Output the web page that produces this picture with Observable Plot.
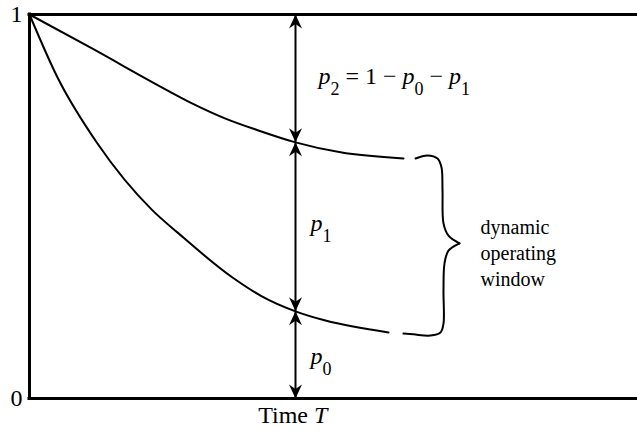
<!DOCTYPE html>
<html>
<head>
<meta charset="utf-8">
<script src="https://cdn.jsdelivr.net/npm/d3@7"></script>
<script src="https://cdn.jsdelivr.net/npm/@observablehq/plot@0.6"></script>
<style>
  html, body { margin: 0; padding: 0; background: #fff; }
  svg text { font-family: "Liberation Serif", "Times New Roman", serif; }
</style>
</head>
<body>
<div id="chart"></div>
<script>
// ---- data (x in time units, y as probability) ----
const upperX = [0, 1.036, 2.122, 2.681, 3.224, 3.766, 4.375, 5.115, 6.151];
const upperY = [1, 0.911, 0.815, 0.768, 0.729, 0.698, 0.667, 0.641, 0.625];   // p0 + p1
const lowerX = [0, 0.461, 1.118, 2.023, 2.451, 3.339, 3.799, 4.375, 4.868, 5.905];
const lowerY = [1, 0.836, 0.664, 0.490, 0.430, 0.315, 0.268, 0.227, 0.203, 0.172]; // p0
const arrowT = 4.375;            // time T where the probabilities are read
const yTicks = [0, 1];

// brace around the "dynamic operating window"
const braceTopX = [6.349, 6.546, 6.711, 6.776, 6.793, 6.809, 6.891, 7.072];
const braceTopY = [0.625, 0.633, 0.625, 0.602, 0.542, 0.456, 0.424, 0.404];
const braceBotX = [7.072, 6.891, 6.826, 6.809, 6.809, 6.760, 6.595, 6.316, 6.151];
const braceBotY = [0.404, 0.385, 0.352, 0.281, 0.195, 0.172, 0.164, 0.167, 0.169];

// labels (markup: *italic*, _subscript)
const mathLabels = [
  {x: 4.753, y: 0.840, text: "*p*_2 = 1 − *p*_0 − *p*_1"},
  {x: 4.62,  y: 0.455, text: "*p*_1"},
  {x: 4.62,  y: 0.109, text: "*p*_0"}
];
const windowLabel = [{x: 7.418, y: 0.477, text: "dynamic\noperating\nwindow"}];
const timeLabel = [{x: 4.33, text: "Time *T*"}];

// ---- derived ----
const pts = (xs, ys) => xs.map((x, i) => ({x, y: ys[i]}));
const upperAt = upperY[upperX.indexOf(arrowT)];
const lowerAt = lowerY[lowerX.indexOf(arrowT)];
const headsUp = [1, upperAt, lowerAt].map(y => ({x: arrowT, y}));
const headsDown = [upperAt, lowerAt, 0].map(y => ({x: arrowT, y}));

const arrowUp = {draw(ctx) { ctx.moveTo(0, 0); ctx.lineTo(6.5, 14); ctx.lineTo(0, 9.5); ctx.lineTo(-6.5, 14); ctx.closePath(); }};
const arrowDown = {draw(ctx) { ctx.moveTo(0, 0); ctx.lineTo(6.5, -14); ctx.lineTo(0, -9.5); ctx.lineTo(-6.5, -14); ctx.closePath(); }};

const FONT = "Liberation Serif";

const chart = Plot.plot({
  width: 637,
  height: 441,
  marginLeft: 29,
  marginRight: 0,
  marginTop: 14,
  marginBottom: 43,
  style: {fontFamily: FONT, fontSize: "24px", color: "#000", background: "#fff"},
  x: {domain: [0, 10], axis: null},
  y: {domain: [0, 1], ticks: yTicks, tickFormat: d => String(d), tickSize: 0, tickPadding: 7, label: null},
  marks: [
    Plot.ruleY([0, 1], {stroke: "#000", strokeWidth: 3, strokeLinecap: "square"}),
    Plot.ruleX([0], {stroke: "#000", strokeWidth: 3, strokeLinecap: "square"}),
    Plot.line(pts(upperX, upperY), {x: "x", y: "y", curve: "monotone-x", stroke: "#000", strokeWidth: 2}),
    Plot.line(pts(lowerX, lowerY), {x: "x", y: "y", curve: "monotone-x", stroke: "#000", strokeWidth: 2}),
    Plot.line(pts(braceTopX, braceTopY), {x: "x", y: "y", curve: "catmull-rom", stroke: "#000", strokeWidth: 2}),
    Plot.line(pts(braceBotX, braceBotY), {x: "x", y: "y", curve: "catmull-rom", stroke: "#000", strokeWidth: 2}),
    Plot.ruleX([arrowT], {y1: 0, y2: 1, stroke: "#000", strokeWidth: 2}),
    Plot.dot(headsUp, {x: "x", y: "y", symbol: arrowUp, fill: "#000", stroke: "none", r: 5}),
    Plot.dot(headsDown, {x: "x", y: "y", symbol: arrowDown, fill: "#000", stroke: "none", r: 5}),
    Plot.text(mathLabels, {x: "x", y: "y", text: "text", textAnchor: "start", fontFamily: FONT, fontSize: 24, fill: "#000"}),
    Plot.text(windowLabel, {x: "x", y: "y", text: "text", textAnchor: "start", lineAnchor: "top", lineHeight: 1.3, fontFamily: FONT, fontSize: 20, fill: "#000"}),
    Plot.text(timeLabel, {x: "x", text: "text", frameAnchor: "bottom", dy: 24, fontFamily: FONT, fontSize: 24, fill: "#000"})
  ]
});

// turn *italic* and _subscript markup into tspans
const NS = "http://www.w3.org/2000/svg";
d3.select(chart).selectAll("text").each(function() {
  const s = this.textContent;
  if (this.querySelector("tspan") || !/[*_]/.test(s)) return;
  this.textContent = "";
  const re = /\*([^*]+)\*|_(\w)|([^*_]+)/g;
  let m, shift = 0;
  while ((m = re.exec(s))) {
    const t = document.createElementNS(NS, "tspan");
    if (m[2]) {
      t.textContent = m[2];
      t.setAttribute("font-size", "18");
      t.setAttribute("dy", "11");
      shift = 11;
    } else {
      t.textContent = m[1] || m[3];
      if (m[1]) t.setAttribute("font-style", "italic");
      if (shift) { t.setAttribute("dy", String(-shift)); shift = 0; }
    }
    this.appendChild(t);
  }
});

document.getElementById("chart").appendChild(chart);
</script>
</body>
</html>
